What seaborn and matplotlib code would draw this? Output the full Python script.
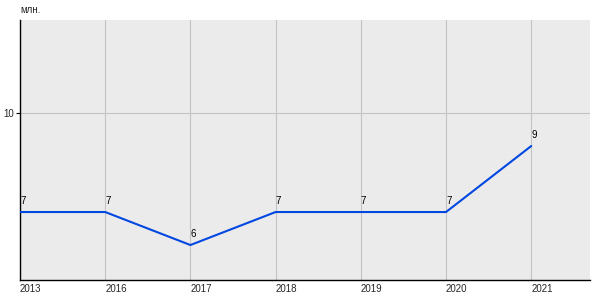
import matplotlib
matplotlib.use("Agg")
import matplotlib.pyplot as plt
import seaborn as sns
import pandas as pd

years = ["2013", "2016", "2017", "2018", "2019", "2020", "2021"]
values = [7, 7, 6, 7, 7, 7, 9]
value_labels = ["7", "7", "6", "7", "7", "7", "9"]
y_ticks = [10]
unit_label = "млн."

sns.set_theme(style="white")
plt.rcParams["font.family"] = ["Liberation Sans", "DejaVu Sans"]

df = pd.DataFrame({"year": years, "value": values})
df["pos"] = range(len(years))

fig = plt.figure(figsize=(6, 3), dpi=100)
ax = fig.add_axes([20/600, 20/300, 570/600, 260/300])
ax.set_facecolor("#ebebeb")

sns.lineplot(data=df, x="pos", y="value", ax=ax, color="#0047e0", linewidth=1.5, zorder=3)

ax.set_xlim(0, 6.69)
ax.set_ylim(4.94, 12.82)

ax.set_xticks(df["pos"])
ax.set_xticklabels(years, ha="left", fontsize=7)
ax.set_yticks(y_ticks)
ax.set_yticklabels([str(t) for t in y_ticks], fontsize=7)
ax.tick_params(axis="x", length=0, pad=3)
ax.tick_params(axis="y", length=3, width=0.8, color="black", pad=1, left=True)
ax.set_xlabel("")
ax.set_ylabel("")

ax.grid(True, axis="both", color="#c4c4c4", linewidth=0.8, zorder=0)
ax.set_axisbelow(True)

for s in ["top", "right"]:
    ax.spines[s].set_visible(False)
for s in ["left", "bottom"]:
    ax.spines[s].set_visible(True)
    ax.spines[s].set_color("black")
    ax.spines[s].set_linewidth(1.0)

for p, v, lab in zip(df["pos"], values, value_labels):
    ax.annotate(lab, (p, v), xytext=(0, 4), textcoords="offset points",
                ha="left", va="bottom", fontsize=7, color="black", zorder=4)

fig.text(20/600, 1 - 10/300, unit_label, ha="left", va="center", fontsize=7)

fig.savefig("out.png", dpi=100)
